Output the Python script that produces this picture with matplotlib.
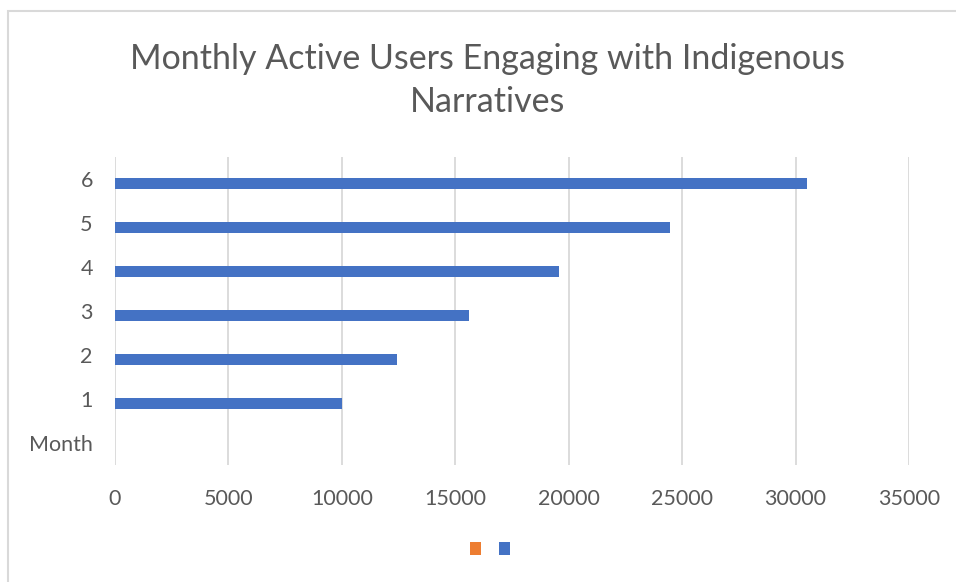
import numpy as np
import matplotlib.pyplot as plt
from matplotlib.patches import Rectangle, Patch

# Data
categories = ['Month', '1', '2', '3', '4', '5', '6']
months = [1, 2, 3, 4, 5, 6]
users = [10000, 12450, 15600, 19550, 24450, 30500]
empty_series = [0, 0, 0, 0, 0, 0]
x_ticks = [0, 5000, 10000, 15000, 20000, 25000, 30000, 35000]

title = 'Monthly Active Users Engaging with Indigenous\nNarratives'
text_color = '#595959'
blue = '#4472C4'
orange = '#ED7D31'
grid_color = '#D9D9D9'

plt.rcParams['font.family'] = ['Lato', 'DejaVu Sans']

fig = plt.figure(figsize=(9.56, 5.82), dpi=100)
fig.patch.set_facecolor('white')

# chart border like the Excel chart area
fig.patches.append(Rectangle((8 / 956, -0.1), 1.2, 1.1 - 11 / 582,
                             transform=fig.transFigure, fill=False,
                             edgecolor='#D9D9D9', linewidth=1.5))

ax = fig.add_axes([115 / 956, 1 - 465 / 582, (909 - 115) / 956, (465 - 157) / 582])

y = np.array(months)
ax.barh(y + 0.15, empty_series, height=0.25, color=orange, linewidth=0)
ax.barh(y - 0.1, users, height=0.25, color=blue, linewidth=0, zorder=3)

ax.set_xlim(0, 35000)
ax.set_ylim(-0.5, 6.5)
ax.set_xticks(x_ticks)
ax.set_xticklabels([str(t) for t in x_ticks])
ax.set_yticks(range(len(categories)))
ax.set_yticklabels(categories)

ax.grid(axis='x', color=grid_color, linewidth=1.3, zorder=0)
ax.set_axisbelow(True)
for s in ax.spines.values():
    s.set_visible(False)
ax.tick_params(axis='both', length=0, labelsize=15.5, labelcolor=text_color)
ax.tick_params(axis='y', pad=16)
ax.tick_params(axis='x', pad=17)

fig.text(488 / 956, 1 - 80.5 / 582, title, ha='center', va='center',
         fontsize=24.5, color=text_color, linespacing=1.42)

handles = [Patch(facecolor=orange), Patch(facecolor=blue)]
fig.legend(handles, ['', ''], loc='center', bbox_to_anchor=(490 / 956, 1 - 550 / 582),
           ncol=2, frameon=False, handlelength=0.6, handleheight=0.6,
           handletextpad=0.0, columnspacing=0.875, fontsize=14)

fig.savefig('out.png', dpi=100, facecolor='white')
